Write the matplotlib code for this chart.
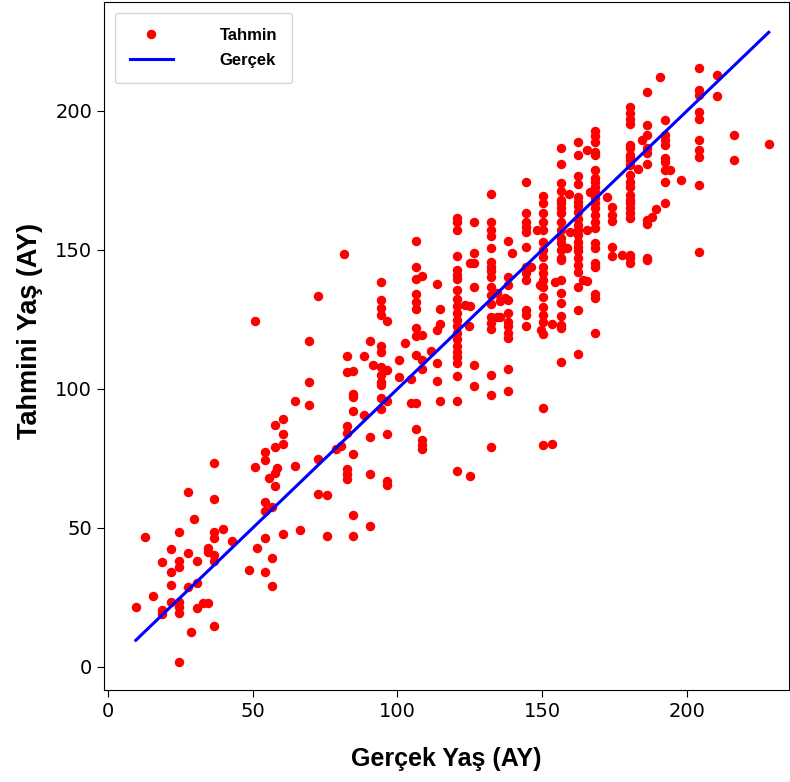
import matplotlib
matplotlib.use("Agg")
import matplotlib.pyplot as plt

# Actual ages (x columns) and predicted ages for each column
gercek_sutun = [9.6, 12.8, 15.7, 18.8, 21.8, 24.6, 27.7, 28.8, 29.6, 30.6, 32.7, 34.7, 36.7,
                39.6, 42.7, 48.6, 50.7, 51.5, 54.4, 55.6, 56.6, 57.7, 58.5, 60.6, 64.7, 66.5,
                69.6, 72.5, 75.6, 78.8, 80.4, 81.5, 82.6, 84.7, 88.5, 90.6, 91.6, 94.4, 96.4,
                100.6, 102.5, 104.6, 106.5, 108.6, 111.5, 113.7, 114.6, 120.6, 123.4, 124.7,
                125.2, 126.6, 132.4, 134.3, 135.4, 137.2, 138.3, 139.5, 144.3, 146.0, 148.1,
                149.3, 149.5, 150.4, 153.4, 154.5, 156.4, 158.5, 159.4, 159.6, 162.5, 164.2,
                165.5, 166.6, 168.3, 172.3, 174.3, 177.5, 180.4, 183.2, 184.4, 186.4, 187.9,
                189.4, 190.8, 192.5, 194.2, 198.0, 204.3, 210.3, 216.3, 228.3]

tahmin_grup = [
    [21.6], [46.6], [25.6], [37.8, 20.3, 19.1], [42.3, 34.3, 29.6, 23.5],
    [48.7, 38.2, 36.1, 23.5, 21.4, 19.3, 1.7], [63.1, 41.0, 28.7], [12.5], [53.1],
    [38.0, 30.3, 21.2], [23.1], [42.7, 41.5, 23.1],
    [73.3, 60.5, 48.7, 46.3, 40.3, 38.2, 14.9], [49.5], [45.2], [34.7], [72.0, 124.3],
    [42.9], [77.2, 74.4, 59.2, 56.2, 46.4, 34.1], [67.9], [57.4, 39.1, 29.0],
    [87.0, 79.0, 69.9, 65.2], [71.7], [89.2, 83.8, 80.2, 47.7], [95.7, 72.3], [49.2],
    [117.4, 102.4, 94.2], [133.6, 74.7, 62.3], [61.7, 47.2], [78.3], [79.5], [148.6],
    [111.7, 106.1, 86.8, 84.0, 71.1, 69.4, 67.5],
    [106.5, 98.1, 97.0, 92.2, 76.6, 54.7, 47.0], [112.0, 90.5],
    [117.1, 82.7, 69.5, 50.7], [108.5],
    [138.6, 132.0, 129.1, 126.7, 115.5, 113.4, 107.8, 105.0, 102.6, 101.3, 96.6, 92.9],
    [124.6, 106.7, 95.8, 83.8, 67.0, 65.5], [110.5, 104.3], [116.4], [103.6, 94.8],
    [153.4, 144.0, 139.4, 134.2, 131.4, 128.7, 121.8, 118.9, 112.2, 94.8, 85.5],
    [140.6, 119.4, 110.4, 107.1, 81.7, 79.9, 78.3], [113.7],
    [137.9, 121.1, 109.2, 102.9], [128.7, 123.4, 95.8],
    [161.5, 160.2, 157.0, 147.8, 142.8, 141.0, 139.5, 135.6, 132.4, 129.9, 127.2, 124.8,
     122.7, 120.3, 117.9, 115.5, 113.4, 111.6, 109.2, 104.7, 95.8, 70.6],
    [130.2], [122.7], [145.4, 129.9, 68.7], [160.2, 148.8, 145.2, 136.8, 108.6, 101.1],
    [170.1, 160.2, 157.2, 154.9, 150.8, 145.8, 144.0, 142.3, 140.1, 136.8, 133.8, 130.5,
     126.0, 123.8, 121.6, 105.0, 98.0, 79.2],
    [134.4, 125.8], [131.8, 126.0], [132.6],
    [153.3, 140.4, 137.4, 132.0, 127.2, 124.2, 122.8, 120.0, 118.2, 107.1, 99.1], [149.0],
    [174.3, 163.2, 160.2, 158.4, 156.6, 151.2, 144.0, 141.6, 139.2, 128.4, 126.6, 122.8],
    [144.0], [157.0], [137.4], [121.2],
    [169.4, 166.8, 163.4, 160.2, 157.0, 153.0, 150.0, 147.4, 144.0, 141.6, 139.2, 136.8,
     133.0, 129.6, 126.5, 124.2, 119.8, 93.3, 80.0],
    [123.2, 80.2], [138.6],
    [186.5, 181.0, 174.0, 171.3, 168.0, 166.8, 165.0, 163.2, 160.2, 157.2, 154.2, 152.4,
     150.0, 147.0, 146.4, 139.2, 134.4, 130.8, 126.3, 123.0, 121.8, 109.8],
    [150.6], [170.3], [156.6],
    [189.0, 184.2, 176.5, 173.7, 169.2, 167.1, 165.8, 163.5, 161.0, 159.0, 157.2, 155.4,
     153.0, 151.0, 149.5, 147.0, 144.6, 142.2, 136.8, 128.5, 112.6],
    [139.2], [139.0, 186.0, 157.2], [171.0],
    [192.8, 191.1, 189.0, 185.4, 184.2, 178.8, 175.8, 174.6, 172.8, 171.0, 168.6, 166.8,
     165.0, 162.6, 160.2, 157.8, 152.4, 150.6, 145.2, 144.0, 134.2, 132.6, 120.0],
    [168.9], [165.6, 162.6, 160.4, 151.2, 148.0], [148.3],
    [201.4, 199.3, 197.1, 195.3, 187.8, 186.6, 184.2, 183.6, 182.4, 180.6, 177.0, 174.6,
     172.8, 169.8, 168.0, 166.8, 165.0, 163.2, 161.4, 148.2, 147.2, 145.2],
    [179.0], [189.6],
    [206.8, 195.0, 191.4, 186.6, 184.8, 180.9, 160.8, 159.2, 147.2, 146.4],
    [162.0], [164.7], [212.2],
    [196.8, 191.4, 189.6, 187.8, 183.0, 181.8, 178.8, 174.6, 166.8], [178.8], [175.0],
    [215.3, 207.6, 205.8, 199.8, 197.1, 189.6, 186.0, 183.4, 173.4, 149.2],
    [213.1, 205.5], [191.4, 182.4], [188.1],
]

gercek = []
tahmin = []
for xv, ys in zip(gercek_sutun, tahmin_grup):
    for yv in ys:
        gercek.append(xv)
        tahmin.append(yv)

fig = plt.figure(figsize=(7.9, 7.82), dpi=100)
ax = fig.add_axes([104 / 790, 92 / 782, 685 / 790, 688 / 782])

ax.plot(gercek, tahmin, 'o', color='red', markersize=5.8, label='Tahmin', zorder=2)
lo, hi = min(gercek), max(gercek)
ax.plot([lo, hi], [lo, hi], color='blue', linewidth=2.2, label='Gerçek', zorder=3)

ax.set_xlim(-1.4, 235.3)
ax.set_ylim(-8.3, 239.2)
ax.set_xticks([0, 50, 100, 150, 200])
ax.set_yticks([0, 50, 100, 150, 200])
ax.tick_params(labelsize=14, length=5)

ax.set_xlabel('Gerçek Yaş (AY)', fontsize=18, fontweight='bold',
              family='Liberation Sans', labelpad=19)
ax.set_ylabel('Tahmini Yaş (AY)', fontsize=19.5, fontweight='bold',
              family='Liberation Sans', labelpad=9)
ax.yaxis.label.set_y(0.522)

leg = ax.legend(loc='upper left', prop={'family': 'Liberation Sans', 'weight': 'bold', 'size': 12},
                handlelength=2.6, handletextpad=2.8, borderaxespad=0.65, numpoints=1,
                borderpad=0.9, labelspacing=0.6)

fig.savefig('out.png', dpi=100)
